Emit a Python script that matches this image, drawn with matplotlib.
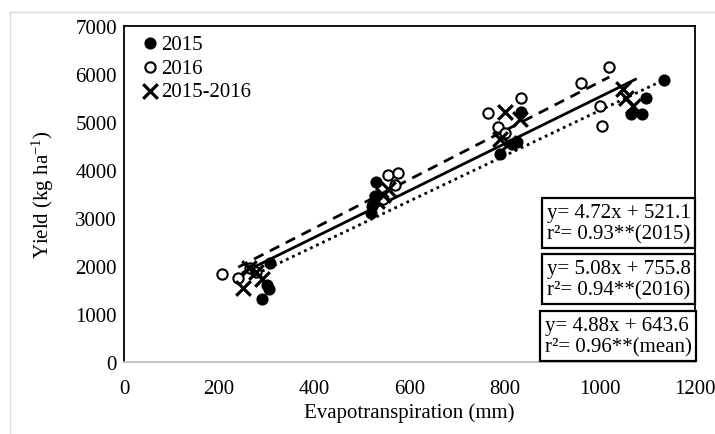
import matplotlib
matplotlib.use("Agg")
import matplotlib.pyplot as plt
import numpy as np
from matplotlib.lines import Line2D

plt.rcParams['font.family'] = ['Liberation Serif', 'DejaVu Serif']
plt.rcParams['mathtext.fontset'] = 'custom'
plt.rcParams['mathtext.rm'] = 'Liberation Serif'
plt.rcParams['mathtext.it'] = 'Liberation Serif:italic'

# data
x2015 = [290, 300, 305, 307, 520, 522, 528, 530, 790, 815, 825, 835, 1065, 1088, 1098, 1134]
y2015 = [1320, 1600, 1530, 2060, 3100, 3250, 3450, 3750, 4330, 4540, 4580, 5200, 5170, 5170, 5500, 5880]

x2016 = [205, 240, 265, 278, 545, 555, 570, 575, 765, 785, 800, 835, 960, 1000, 1005, 1020]
y2016 = [1840, 1760, 1950, 1880, 3400, 3900, 3680, 3930, 5190, 4900, 4780, 5500, 5820, 5330, 4920, 6150]

xmean = [250, 262, 278, 290, 532, 545, 555, 790, 800, 810, 832, 1048, 1056, 1070]
ymean = [1540, 1960, 1880, 1720, 3350, 3480, 3600, 4650, 5200, 4560, 5060, 5680, 5500, 5340]

fits = {
    '2015': (4.72, 521.1, 290, 1134),
    '2016': (5.08, 755.8, 240, 1020),
    'mean': (4.88, 643.6, 250, 1075),
}
eq_texts = ["y= 4.72x + 521.1\nr\u00b2= 0.93**(2015)",
            "y= 5.08x + 755.8\nr\u00b2= 0.94**(2016)",
            "y= 4.88x + 643.6\nr\u00b2= 0.96**(mean)"]

xticks = [0, 200, 400, 600, 800, 1000, 1200]
yticks = [0, 1000, 2000, 3000, 4000, 5000, 6000, 7000]

FS = 15

fig = plt.figure(figsize=(7.15, 4.35), dpi=100)
ax = fig.add_axes([124/715, 1-363/435, 571/715, 336/435])

# outer light frame
fig.add_artist(Line2D([10/715, 1], [1-13/435, 1-13/435], transform=fig.transFigure, color='#d9d9d9', lw=1))
fig.add_artist(Line2D([10/715, 10/715], [0, 1-13/435], transform=fig.transFigure, color='#d9d9d9', lw=1))

# regression lines
styles = {'2015': (0, (1, 1.4)), '2016': (0, (3.8, 2.6)), 'mean': '-'}
for k, (a, b, x0, x1) in fits.items():
    xs = np.array([x0, x1])
    ax.plot(xs, a*xs + b, color='black', lw=2, linestyle=styles[k], zorder=2)

ax.scatter(x2015, y2015, s=60, color='black', marker='o', zorder=3, label='2015')
ax.scatter(x2016, y2016, s=55, facecolor='white', edgecolor='black', linewidths=1.5, marker='o', zorder=3, label='2016')
ax.scatter(xmean, ymean, s=110, color='black', marker='x', linewidths=2.3, zorder=4, label='2015-2016')

ax.set_xlim(0, 1200)
ax.set_ylim(0, 7000)
ax.set_xticks(xticks)
ax.set_yticks(yticks)
ax.tick_params(axis='y', length=0, labelsize=FS, pad=5)
ax.tick_params(axis='x', length=0, labelsize=FS, pad=12)
for s in ['left', 'top', 'right']:
    ax.spines[s].set_color('black')
    ax.spines[s].set_linewidth(1.3)
ax.spines['bottom'].set_color('#bfbfbf')
ax.spines['bottom'].set_linewidth(1.3)

ax.set_xlabel('Evapotranspiration (mm)', fontsize=FS, labelpad=3)
ax.set_ylabel('Yield (kg ha$^{\\mathrm{-1}}$)', fontsize=FS, labelpad=14)

leg = ax.legend(loc='upper left', frameon=False, fontsize=FS, handletextpad=-0.2,
                labelspacing=0.2, borderaxespad=0.0, handlelength=1.4,
                bbox_to_anchor=(0.006, 1.0))

tops = [204, 260, 317]
lefts = [547, 547, 545]
for t, top, left in zip(eq_texts, tops, lefts):
    ax.text((left-124)/571, (363-top)/336, t, transform=ax.transAxes, fontsize=FS,
            va='top', ha='left', linespacing=1.15,
            bbox=dict(boxstyle='square,pad=0.22', facecolor='white', edgecolor='black', lw=1.6),
            zorder=5, clip_on=False)

fig.savefig('out.png', dpi=100)
